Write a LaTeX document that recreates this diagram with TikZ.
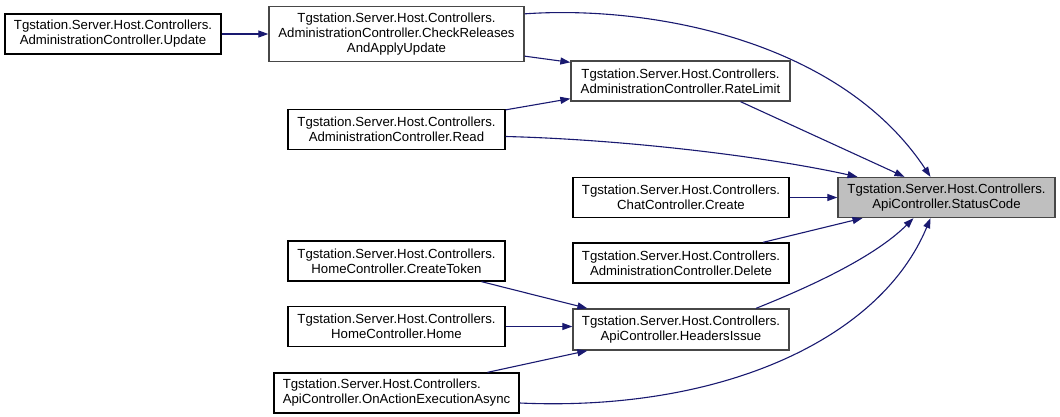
\documentclass[tikz,border=0pt]{standalone}
\usepackage{fontspec}
\setmainfont{Liberation Sans}
\usepackage{xcolor}
\usetikzlibrary{arrows.meta,calc}
\definecolor{edgeblue}{HTML}{191970}
\definecolor{rootgray}{HTML}{BFBFBF}
\begin{document}
\begin{tikzpicture}[
  x=1pt,y=-1pt,
  fn/.style={rectangle,draw=black,line width=1.3pt,align=center,minimum width=216pt,minimum height=40pt,inner sep=2pt,fill=white,font=\fontsize{13.2}{15}\selectfont},
  grey/.style={draw=black!72},
  root/.style={fn,grey,fill=rootgray},
  edge/.style={-{Triangle[length=10pt,width=7pt]},line width=1.1pt,draw=edgeblue}]
\useasboundingbox (0,0) rectangle (1060,417);
\node[fn] (upd) at (113,34) {Tgstation.Server.Host.Controllers.\\AdministrationController.Update};
\node[fn,grey,minimum width=255pt,minimum height=55pt] (chk) at (396.5,34) {Tgstation.Server.Host.Controllers.\\AdministrationController.CheckReleases\\AndApplyUpdate};
\node[fn,grey,minimum width=219pt] (rate) at (680.5,81) {Tgstation.Server.Host.Controllers.\\AdministrationController.RateLimit};
\node[fn,minimum width=217pt] (read) at (396.5,129.5) {Tgstation.Server.Host.Controllers.\\AdministrationController.Read};
\node[root,minimum width=217pt] (stat) at (946.5,197.5) {Tgstation.Server.Host.Controllers.\\ApiController.StatusCode};
\node[fn] (chat) at (681,197.5) {Tgstation.Server.Host.Controllers.\\ChatController.Create};
\node[fn] (del) at (681,263) {Tgstation.Server.Host.Controllers.\\AdministrationController.Delete};
\node[fn,grey,minimum height=41pt] (hdr) at (681,329.5) {Tgstation.Server.Host.Controllers.\\ApiController.HeadersIssue};
\node[fn,minimum width=217pt] (tok) at (396.5,261) {Tgstation.Server.Host.Controllers.\\HomeController.CreateToken};
\node[fn,minimum width=217pt] (home) at (396.5,326.5) {Tgstation.Server.Host.Controllers.\\HomeController.Home};
\node[fn,minimum width=245pt,align=left] (onact) at (396.5,393) {Tgstation.Server.Host.Controllers.\\ApiController.OnActionExecutionAsync};
% callers of CheckReleasesAndApplyUpdate and RateLimit
\draw[edge] (upd.east) -- (chk.west);
\draw[edge] ([yshift=6pt]chk.south east) -- ([yshift=-2pt]rate.north west);
\draw[edge] ([yshift=-1pt]read.north east) -- ([yshift=3pt]rate.south west);
% callers of StatusCode
\draw[edge] ([yshift=-8pt]chk.north east) .. controls (650,5) and (840,40) .. ([xshift=-16pt]stat.north);
\draw[edge] ([xshift=60pt]rate.south) -- ([xshift=-42pt]stat.north);
\draw[edge] ([yshift=-7pt]read.east) .. controls +(120,3) and +(-90,-20) .. ([xshift=-89pt]stat.north);
\draw[edge] (chat.east) -- (stat.west);
\draw[edge] ([xshift=82pt]del.north) -- ([xshift=-84pt]stat.south);
\draw[edge] ([xshift=75pt]hdr.north) .. controls +(50,-20) and +(-40,40) .. ([xshift=-33pt]stat.south);
\draw[edge] ([yshift=-10pt]onact.east) .. controls (720,412) and (880,340) .. ([xshift=-16pt]stat.south);
% callers of HeadersIssue
\draw[edge] ([xshift=85pt]tok.south) -- ([xshift=15pt]hdr.north west);
\draw[edge] (home.east) -- (home.east -| hdr.west);
\draw[edge] ([xshift=91pt]onact.north) -- ([xshift=15pt]hdr.south west);
\end{tikzpicture}
\end{document}
